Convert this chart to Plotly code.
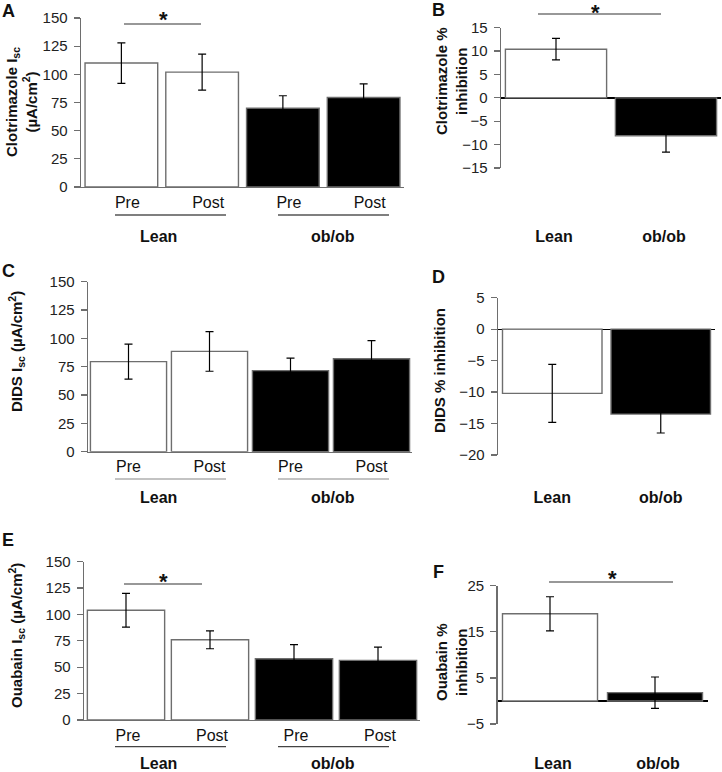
import plotly.graph_objects as go

W, H = 722, 772

# ---------------- data ----------------
sub_cats = ["Pre", "Post", "Pre", "Post"]
groups = ["Lean", "ob/ob"]
bar_colors4 = ["white", "white", "black", "black"]
bar_colors2 = ["white", "black"]

clot_isc = [110, 102, 70, 79.5]
clot_isc_err = [18, 16, 11, 12]
clot_inh = [10.4, -8.1]
clot_inh_err = [2.3, 3.5]

dids_isc = [79.5, 88.5, 71.5, 82]
dids_isc_err = [15.5, 17.5, 11, 16]
dids_inh = [-10.2, -13.5]
dids_inh_err = [4.6, 3.0]

ouab_isc = [104, 76, 58, 56.5]
ouab_isc_err = [16, 8.5, 13.5, 12.5]
ouab_inh = [18.9, 1.8]
ouab_inh_err = [3.7, 3.4]

isc_ticks = [0, 25, 50, 75, 100, 125, 150]
clot_inh_ticks = [-15, -10, -5, 0, 5, 10, 15]
dids_inh_ticks = [-20, -15, -10, -5, 0, 5]
ouab_inh_ticks = [-5, 5, 15, 25]

FONT = "Liberation Sans, Arial, sans-serif"
AXC = "#6e6e6e"


def px(p):
    return p / W


def py(p):
    return 1 - p / H


fig = go.Figure()

panels = [
    dict(v=clot_isc, e=clot_isc_err, c=bar_colors4, tt=sub_cats, tv=isc_ticks, yr=[0, 150],
         xd=(81, 404), yd=(18, 187), bw=0.9, kind="isc", shift=6),
    dict(v=clot_inh, e=clot_inh_err, c=bar_colors2, tt=groups, tv=clot_inh_ticks, yr=[-15, 15],
         xd=(501, 721), yd=(27.7, 168), bw=0.92, kind="inh", lab_y=237, shift=-2),
    dict(v=dids_isc, e=dids_isc_err, c=bar_colors4, tt=sub_cats, tv=isc_ticks, yr=[0, 150],
         xd=(88, 412), yd=(281.7, 451.7), bw=0.94, kind="isc", shift=0),
    dict(v=dids_inh, e=dids_inh_err, c=bar_colors2, tt=groups, tv=dids_inh_ticks, yr=[-20, 5],
         xd=(498, 715), yd=(297.7, 455), bw=0.917, kind="inh", lab_y=498, shift=0),
    dict(v=ouab_isc, e=ouab_isc_err, c=bar_colors4, tt=sub_cats, tv=isc_ticks, yr=[0, 150],
         xd=(84, 420), yd=(561.7, 720), bw=0.92, kind="isc", shift=2),
    dict(v=ouab_inh, e=ouab_inh_err, c=bar_colors2, tt=groups, tv=ouab_inh_ticks, yr=[-5, 25],
         xd=(497.5, 707.5), yd=(585.7, 724), bw=0.905, kind="inh", lab_y=764, shift=3),
]

layout = {}
for i, p in enumerate(panels, start=1):
    n = len(p["v"])
    xs = list(range(n))
    xa = "x" if i == 1 else f"x{i}"
    ya = "y" if i == 1 else f"y{i}"
    fig.add_trace(go.Bar(
        x=xs, y=p["v"], width=p["bw"],
        marker=dict(color=p["c"], line=dict(color=AXC, width=1.4)),
        error_y=dict(type="data", array=p["e"], color="black", thickness=1.2, width=4),
        xaxis=xa, yaxis=ya, showlegend=False, hoverinfo="skip",
    ))
    xkey = "xaxis" if i == 1 else f"xaxis{i}"
    ykey = "yaxis" if i == 1 else f"yaxis{i}"
    isc = p["kind"] == "isc"
    if isc:
        standoff = 0
        tfont = dict(family=FONT, size=16, color="#111")
    else:
        bottom_px = p["yd"][1]
        standoff = p["lab_y"] - bottom_px - 12
        tfont = dict(family=FONT, size=16, color="#111", weight="bold")
    layout[xkey] = dict(
        domain=[px(p["xd"][0]), px(p["xd"][1])], range=[-0.5, n - 0.5],
        tickvals=xs, ticktext=p["tt"], ticks="", showgrid=False, zeroline=False,
        showline=isc, linecolor=AXC, linewidth=1.4, anchor=ya, automargin=False,
        tickfont=tfont, ticklabelstandoff=standoff, ticklabelshift=p["shift"],
        fixedrange=True,
    )
    layout[ykey] = dict(
        domain=[py(p["yd"][1]), py(p["yd"][0])], range=p["yr"], tickvals=p["tv"],
        ticks="outside", ticklen=6, tickcolor=AXC, tickwidth=1.2, automargin=False,
        showline=True, linecolor=AXC, linewidth=1.4, anchor=xa, showgrid=False,
        zeroline=not isc, zerolinecolor="black", zerolinewidth=1.3,
        tickfont=dict(family=FONT, size=15, color="#222"), ticklabelstandoff=3,
        fixedrange=True,
    )

annotations = []
shapes = []


def ann(text, x, y, size=15, bold=True, angle=0, color="#111"):
    annotations.append(dict(
        text=f"<b>{text}</b>" if bold else text, x=px(x), y=py(y), xref="paper", yref="paper",
        xanchor="center", yanchor="middle", showarrow=False, textangle=angle,
        font=dict(family=FONT, size=size, color=color),
    ))


def hline(x0, x1, y, color="black", width=1.2):
    shapes.append(dict(type="line", xref="paper", yref="paper", x0=px(x0), x1=px(x1),
                       y0=py(y), y1=py(y), line=dict(color=color, width=width)))


# panel letters
for letter, x, y in [("A", 8, 11), ("B", 438.5, 10), ("C", 8, 271), ("D", 438, 277), ("E", 8, 540), ("F", 438, 572)]:
    ann(letter, x, y, size=18)

# y-axis titles
ann("Clotrimazole I<sub>sc</sub><br>(µA/cm<sup>2</sup>)", 21, 102, angle=-90)
ann("Clotrimazole %<br>inhibition", 451, 81, angle=-90)
ann("DIDS I<sub>sc</sub> (µA/cm<sup>2</sup>)", 16, 352, angle=-90)
ann("DIDS % inhibition", 440, 370, angle=-90)
ann("Ouabain I<sub>sc</sub> (µA/cm<sup>2</sup>)", 16, 636, angle=-90)
ann("Ouabain %<br>inhibition", 451, 662, angle=-90)

# group labels & underlines for Isc panels
for line_y, lab_y, col in [(215, 237, "black"), (479, 498, "#888"), (746.7, 763, "#444")]:
    hline(115, 226, line_y, color=col)
    hline(278, 389, line_y, color=col)
    ann(groups[0], 158, lab_y, size=16)
    ann(groups[1], 333, lab_y, size=16)

# significance markers
for x0, x1, y, sx, sy in [(124, 201, 24, 163, 15), (538, 661, 14, 595, 7.5),
                          (124, 202, 584, 163, 576), (549, 673, 582, 612, 573)]:
    hline(x0, x1, y, color="#333")
    ann("*", sx, sy + 5, size=22)

fig.update_layout(
    template="none",
    width=W, height=H, margin=dict(l=0, r=0, t=0, b=0, pad=0),
    paper_bgcolor="white", plot_bgcolor="white",
    annotations=annotations, shapes=shapes, bargap=0,
    **layout,
)

fig.write_html(
    "out.html",
    config={"displayModeBar": False, "staticPlot": True},
    post_script="document.body.style.margin='0px';document.body.style.padding='0px';",
)
